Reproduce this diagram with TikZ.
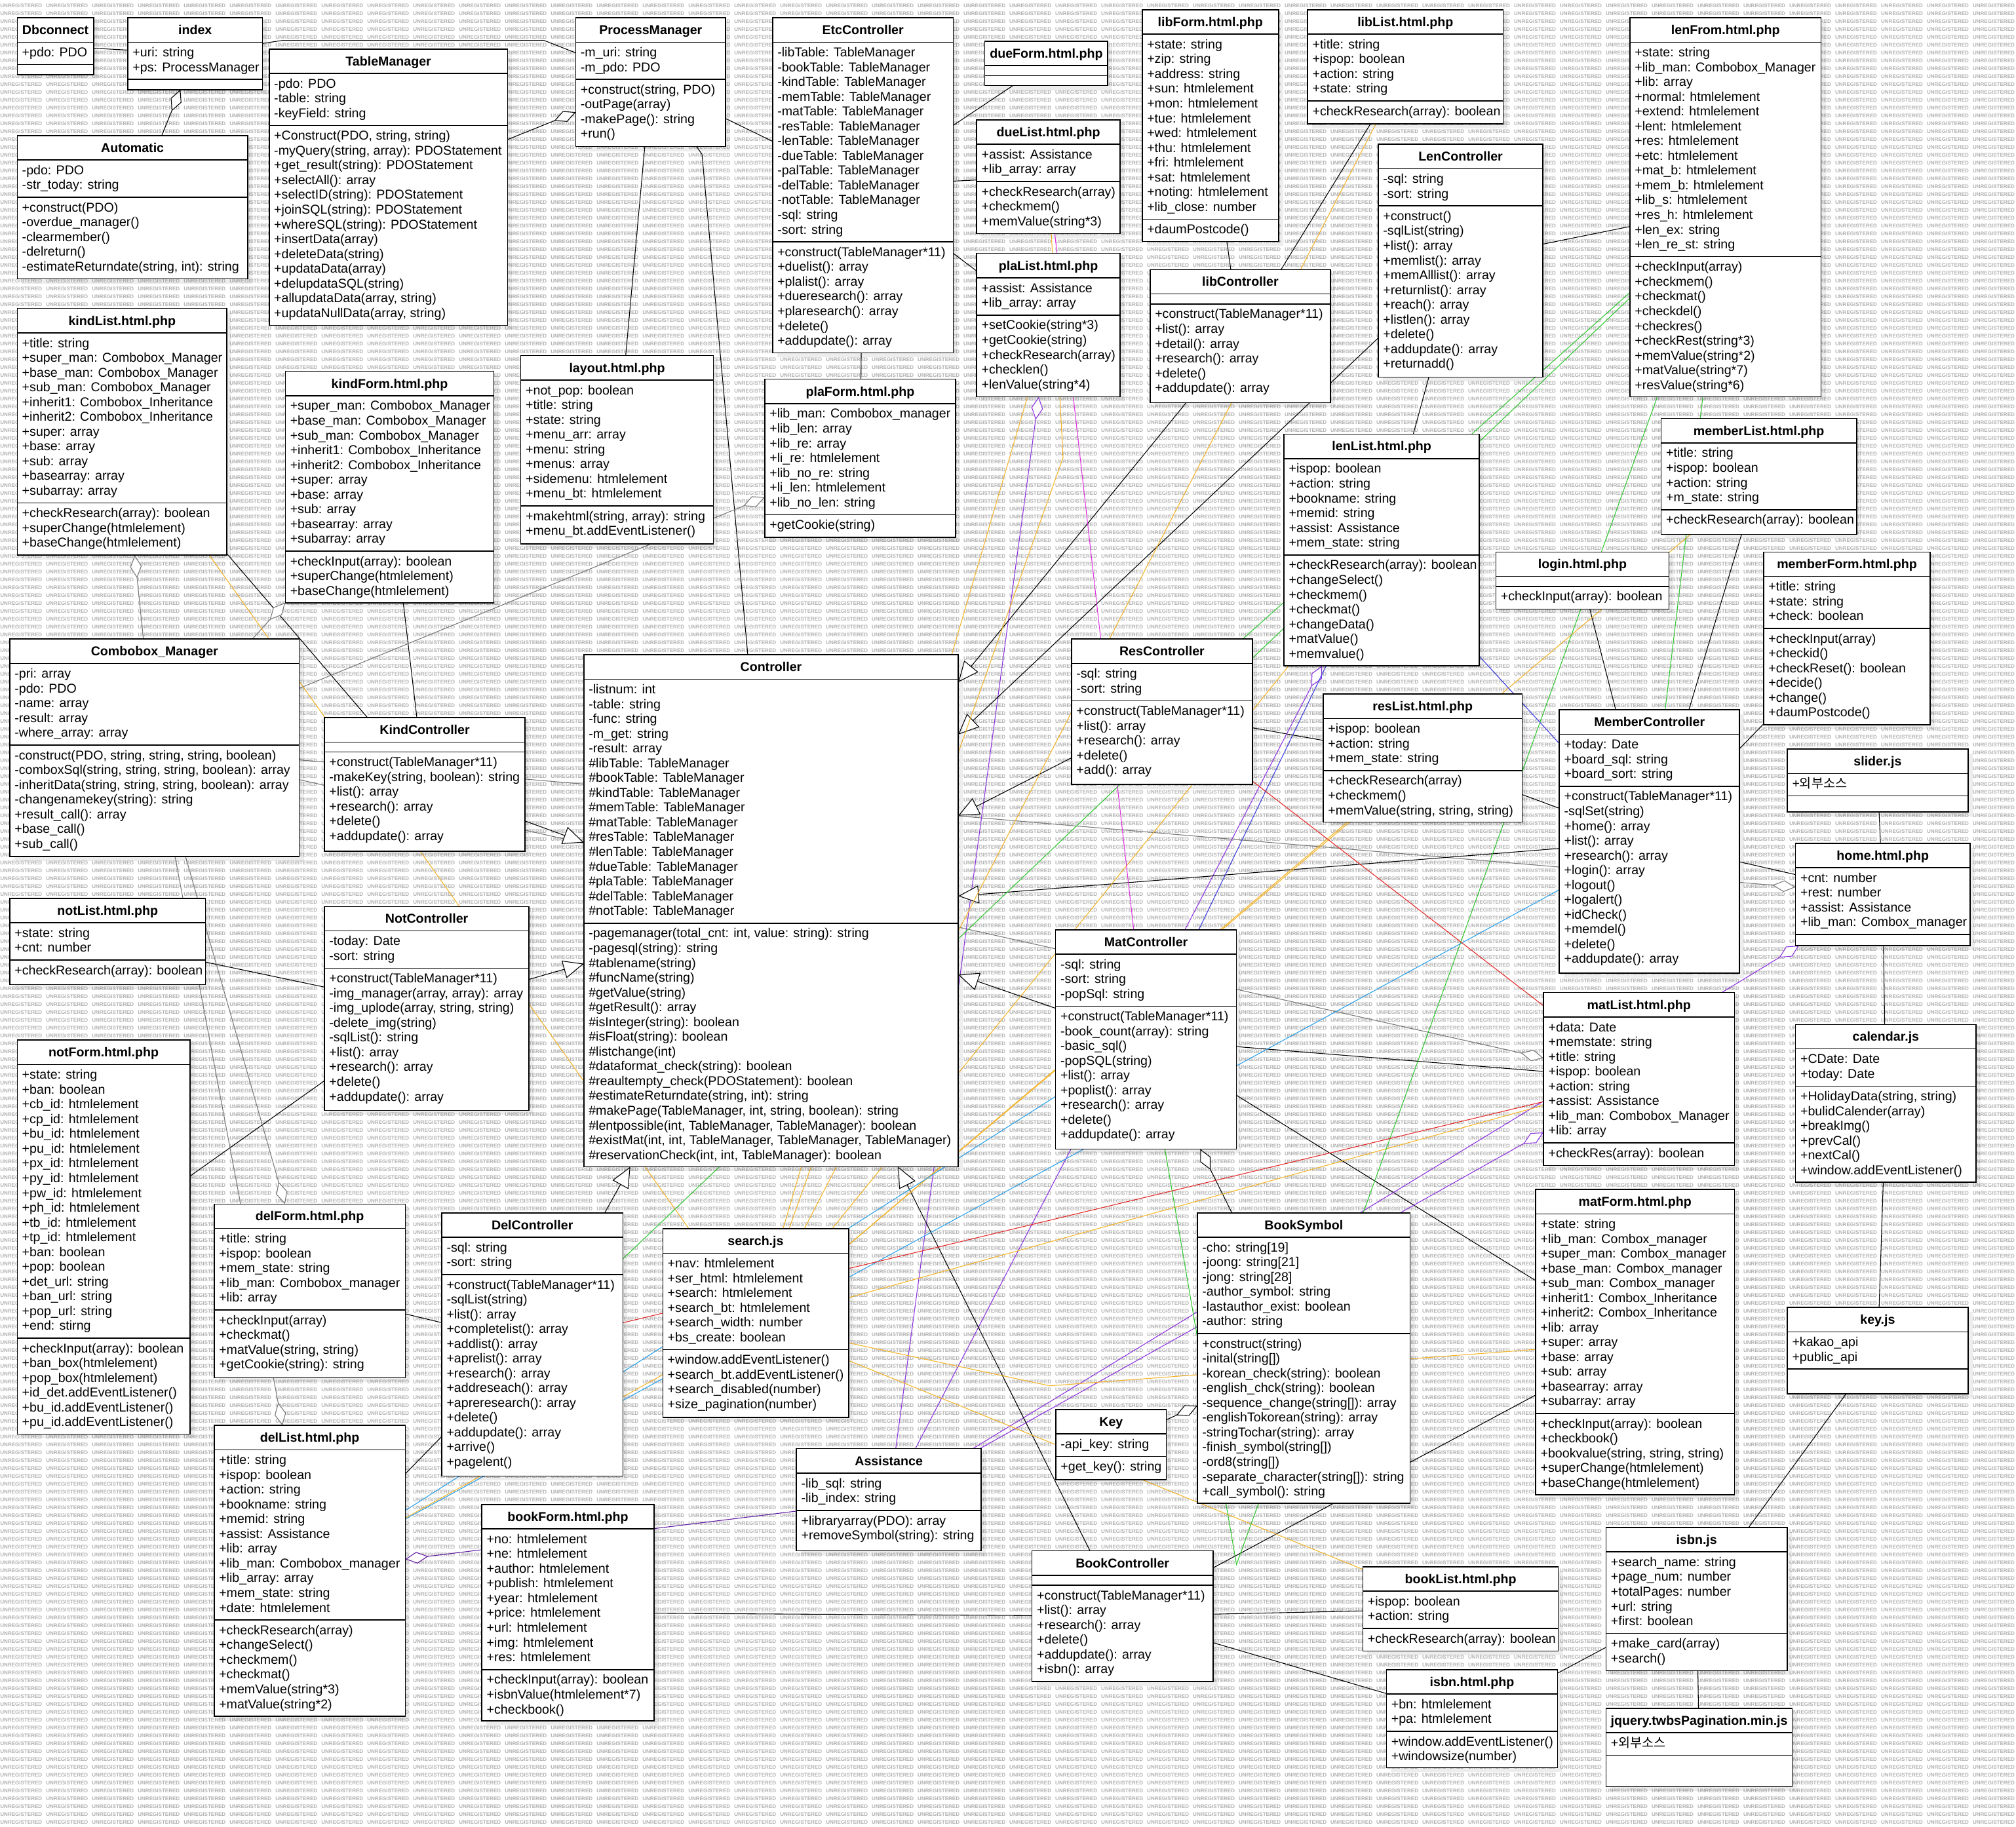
\documentclass[tikz,border=0pt]{standalone}
\usepackage{fontspec}
\setmainfont{Liberation Sans}
\newfontfamily\krfont{Noto Sans CJK KR}
\usetikzlibrary{arrows.meta}
\pgfdeclarelayer{wm}
\pgfdeclarelayer{lines}
\pgfdeclarelayer{boxes}
\pgfsetlayers{wm,lines,boxes,main}

\definecolor{corange}{RGB}{245,180,40}
\definecolor{cgreen}{RGB}{50,200,50}
\definecolor{cpurple}{RGB}{140,50,225}
\definecolor{cdpurple}{RGB}{95,25,160}
\definecolor{cmagenta}{RGB}{225,50,225}
\definecolor{cred}{RGB}{230,40,40}
\definecolor{clblue}{RGB}{40,160,235}
\definecolor{cblue}{RGB}{60,60,225}
\definecolor{cgray}{RGB}{120,120,120}

% line struts for class compartments
\newcommand\ls{\rule[-3.19pt]{0pt}{11.49pt}}
\newcommand\ts{\rule[-3pt]{0pt}{13pt}}

% background tiling text
\newcommand\wmw{\makebox[35.68pt][l]{UNREGISTERED}}
\newcommand\wmfour{\wmw\wmw\wmw\wmw}
\newcommand\wmrow{\wmfour\wmfour\wmfour\wmfour\wmfour\wmfour\wmfour\wmfour\wmfour\wmfour\wmfour}

% \umlclass{name}{x}{y}{width}{height}{title}{attributes}{operations}
\newcommand\umlclass[8]{%
  \begin{pgfonlayer}{boxes}
    \fill[boxshade] ({#2+3.5},{#3+3.5}) rectangle ++(#4,#5);
    \node[classbox, minimum width=#4pt, minimum height=#5pt] (#1) at ({#2+#4/2},{#3+#5/2}) {};
  \end{pgfonlayer}
  \def\partA{#7}\ifx\partA\empty\def\partA{\rule{0pt}{1.7pt}}\else\def\partA{\ls#7\ls}\fi
  \def\partB{#8}\ifx\partB\empty\def\partB{\rule{0pt}{1.7pt}}\else\def\partB{\ls#8\ls}\fi
  \node[ttxt, anchor=north] (#1-t) at (#1.north) {\ts#6};
  \node[ptxt, anchor=north west] (#1-a) at (#1-t.south -| #1.west) {\partA};
  \node[ptxt, anchor=north west] (#1-m) at (#1-a.south -| #1.west) {\partB};
  \draw[sepline] (#1-t.south -| #1.west) -- (#1-t.south -| #1.east);
  \draw[sepline] (#1-a.south -| #1.west) -- (#1-a.south -| #1.east);
}

\tikzset{
  classbox/.style={draw=black, line width=0.8pt, fill=white, inner sep=0pt, outer sep=0pt},
  boxshade/.style={fill=black, opacity=0.07},
  ttxt/.style={inner xsep=2pt, inner ysep=3pt, outer sep=0pt, font=\fontsize{10}{11.49}\selectfont\bfseries},
  ptxt/.style={inner xsep=3.8pt, inner ysep=3pt, outer sep=0pt, align=left, font=\fontsize{10}{11.49}\selectfont},
  sepline/.style={line width=0.8pt},
  wm/.style={anchor=base west, inner sep=0pt, font=\fontsize{4.1}{4.1}\selectfont\bfseries, text=black!30},
  conn/.style={line width=0.55pt},
  assoc/.style={conn, draw=black},
  gen/.style={assoc, -{Triangle[length=16pt, width=14pt, fill=white]}},
  agg/.style={conn, -{Diamond[length=18pt, width=9pt, fill=white]}},
  oline/.style={conn, draw=corange},
  gline/.style={conn, draw=cgreen},
  bline/.style={conn, draw=cblue},
  lbline/.style={conn, draw=clblue},
  rline/.style={conn, draw=cred},
  mline/.style={conn, draw=cmagenta},
}

\begin{document}
\begin{tikzpicture}[x=1pt, y=-1pt]
\useasboundingbox (0,0) rectangle (1568,1421);

\begin{pgfonlayer}{wm}
  \fill[white] (0,0) rectangle (1568,1421);
  \foreach \k in {0,...,231} {\node[wm] (wm\k) at (0,{6.1+6.117*\k}) {\wmrow};}
\end{pgfonlayer}

% ---------- classes ----------
\umlclass{dbc}{13.4}{13.8}{59.4}{44.3}{Dbconnect}{+pdo: PDO}{}
\umlclass{idx}{99.4}{13.8}{104.7}{55.9}{index}{+uri: string\\+ps: ProcessManager}{}
\umlclass{auto}{13.4}{105.4}{179.3}{111.6}{Automatic}{-pdo: PDO\\-str\_today: string}{+construct(PDO)\\-overdue\_manager()\\-clearmember()\\-delreturn()\\-estimateReturndate(string, int): string}
\umlclass{tm}{209.4}{38.2}{185.4}{214.8}{TableManager}{-pdo: PDO\\-table: string\\-keyField: string}{+Construct(PDO, string, string)\\-myQuery(string, array): PDOStatement\\+get\_result(string): PDOStatement\\+selectAll(): array\\+selectID(string): PDOStatement\\+joinSQL(string): PDOStatement\\+whereSQL(string): PDOStatement\\+insertData(array)\\+deleteData(string)\\+updataData(array)\\+delupdataSQL(string)\\+allupdataData(array, string)\\+updataNullData(array, string)}
\umlclass{pm}{447.8}{13.8}{116.6}{100.2}{ProcessManager}{-m\_uri: string\\-m\_pdo: PDO}{+construct(string, PDO)\\-outPage(array)\\-makePage(): string\\+run()}
\umlclass{etc}{600.9}{13.8}{140.5}{260.6}{EtcController}{-libTable: TableManager\\-bookTable: TableManager\\-kindTable: TableManager\\-memTable: TableManager\\-matTable: TableManager\\-resTable: TableManager\\-lenTable: TableManager\\-dueTable: TableManager\\-palTable: TableManager\\-delTable: TableManager\\-notTable: TableManager\\-sql: string\\-sort: string}{+construct(TableManager*11)\\+duelist(): array\\+plalist(): array\\+dueresearch(): array\\+plaresearch(): array\\+delete()\\+addupdate(): array}
\umlclass{dueform}{766}{32.1}{95.5}{34.5}{dueForm.html.php}{}{}
\umlclass{duelist}{759.6}{93.2}{111.6}{88.6}{dueList.html.php}{+assist: Assistance\\+lib\_array: array}{+checkResearch(array)\\+checkmem()\\+memValue(string*3)}
\umlclass{plalist}{759.6}{197.1}{111.6}{111.5}{plaList.html.php}{+assist: Assistance\\+lib\_array: array}{+setCookie(string*3)\\+getCookie(string)\\+checkResearch(array)\\+checklen()\\+lenValue(string*4)}
\umlclass{libform}{888.4}{7.6}{106}{180.3}{libForm.html.php}{+state: string\\+zip: string\\+address: string\\+sun: htmlelement\\+mon: htmlelement\\+tue: htmlelement\\+wed: htmlelement\\+thu: htmlelement\\+fri: htmlelement\\+sat: htmlelement\\+noting: htmlelement\\+lib\_close: number}{+daumPostcode()}
\umlclass{liblist}{1017}{7.6}{152.1}{88.7}{libList.html.php}{+title: string\\+ispop: boolean\\+action: string\\+state: string}{+checkResearch(array): boolean}
\umlclass{lenfrom}{1267.7}{13.8}{148.7}{294.8}{lenFrom.html.php}{+state: string\\+lib\_man: Combobox\_Manager\\+lib: array\\+normal: htmlelement\\+extend: htmlelement\\+lent: htmlelement\\+res: htmlelement\\+etc: htmlelement\\+mat\_b: htmlelement\\+mem\_b: htmlelement\\+lib\_s: htmlelement\\+res\_h: htmlelement\\+len\_ex: string\\+len\_re\_st: string}{+checkInput(array)\\+checkmem()\\+checkmat()\\+checkdel()\\+checkres()\\+checkRest(string*3)\\+memValue(string*2)\\+matValue(string*7)\\+resValue(string*6)}
\umlclass{lenctl}{1072}{112.2}{128}{181.2}{LenController}{-sql: string\\-sort: string}{+construct()\\-sqlList(string)\\+list(): array\\+memlist(): array\\+memAlllist(): array\\+returnlist(): array\\+reach(): array\\+listlen(): array\\+delete()\\+addupdate(): array\\+returnadd()}
\umlclass{libctl}{894.5}{209.7}{140.3}{103.6}{libController}{}{+construct(TableManager*11)\\+list(): array\\+detail(): array\\+research(): array\\+delete()\\+addupdate(): array}
\umlclass{kindlist}{13.4}{239.9}{163.1}{191.9}{kindList.html.php}{+title: string\\+super\_man: Combobox\_Manager\\+base\_man: Combobox\_Manager\\+sub\_man: Combobox\_Manager\\+inherit1: Combobox\_Inheritance\\+inherit2: Combobox\_Inheritance\\+super: array\\+base: array\\+sub: array\\+basearray: array\\+subarray: array}{+checkResearch(array): boolean\\+superChange(htmlelement)\\+baseChange(htmlelement)}
\umlclass{kindform}{221.9}{288.8}{162.3}{180.3}{kindForm.html.php}{+super\_man: Combobox\_Manager\\+base\_man: Combobox\_Manager\\+sub\_man: Combobox\_Manager\\+inherit1: Combobox\_Inheritance\\+inherit2: Combobox\_Inheritance\\+super: array\\+base: array\\+sub: array\\+basearray: array\\+subarray: array}{+checkInput(array): boolean\\+superChange(htmlelement)\\+baseChange(htmlelement)}
\umlclass{layout}{405.1}{276.6}{149.7}{146.6}{layout.html.php}{+not\_pop: boolean\\+title: string\\+state: string\\+menu\_arr: array\\+menu: string\\+menus: array\\+sidemenu: htmlelement\\+menu\_bt: htmlelement}{+makehtml(string, array): string\\+menu\_bt.addEventListener()}
\umlclass{plaform}{594.8}{294.9}{148.4}{123.1}{plaForm.html.php}{+lib\_man: Combobox\_manager\\+lib\_len: array\\+lib\_re: array\\+li\_re: htmlelement\\+lib\_no\_re: string\\+li\_len: htmlelement\\+lib\_no\_len: string}{+getCookie(string)}
\umlclass{lenlist}{998.7}{337.7}{151.9}{180.2}{lenList.html.php}{+ispop: boolean\\+action: string\\+bookname: string\\+memid: string\\+assist: Assistance\\+mem\_state: string}{+checkResearch(array): boolean\\+changeSelect()\\+checkmem()\\+checkmat()\\+changeData()\\+matValue()\\+memvalue()}
\umlclass{memlist}{1292}{325.5}{152}{90.1}{memberList.html.php}{+title: string\\+ispop: boolean\\+action: string\\+m\_state: string}{+checkResearch(array): boolean}
\umlclass{login}{1163.5}{429.4}{134.6}{44.3}{login.html.php}{}{+checkInput(array): boolean}
\umlclass{memform}{1371.7}{429.4}{129.6}{134.3}{memberForm.html.php}{+title: string\\+state: string\\+check: boolean}{+checkInput(array)\\+checkid()\\+checkReset(): boolean\\+decide()\\+change()\\+daumPostcode()}
\umlclass{combo}{7.6}{497.1}{225.2}{169}{Combobox\_Manager}{-pri: array\\-pdo: PDO\\-name: array\\-result: array\\-where\_array: array}{-construct(PDO, string, string, string, boolean)\\-comboxSql(string, string, string, boolean): array\\-inheritData(string, string, string, boolean): array\\-changenamekey(string): string\\+result\_call(): array\\+base\_call()\\+sub\_call()}
\umlclass{ctl}{454.1}{509.3}{291.2}{398.2}{Controller}{-listnum: int\\-table: string\\-func: string\\-m\_get: string\\-result: array\\\#libTable: TableManager\\\#bookTable: TableManager\\\#kindTable: TableManager\\\#memTable: TableManager\\\#matTable: TableManager\\\#resTable: TableManager\\\#lenTable: TableManager\\\#dueTable: TableManager\\\#plaTable: TableManager\\\#delTable: TableManager\\\#notTable: TableManager}{-pagemanager(total\_cnt: int, value: string): string\\-pagesql(string): string\\\#tablename(string)\\\#funcName(string)\\\#getValue(string)\\\#getResult(): array\\\#isInteger(string): boolean\\\#isFloat(string): boolean\\\#listchange(int)\\\#dataformat\_check(string): boolean\\\#reaultempty\_check(PDOStatement): boolean\\\#estimateReturndate(string, int): string\\\#makePage(TableManager, int, string, boolean): string\\\#lentpossible(int, TableManager, TableManager): boolean\\\#existMat(int, int, TableManager, TableManager, TableManager)\\\#reservationCheck(int, int, TableManager): boolean}
\umlclass{kindctl}{252.3}{558.2}{156.1}{103.9}{KindController}{}{+construct(TableManager*11)\\-makeKey(string, boolean): string\\+list(): array\\+research(): array\\+delete()\\+addupdate(): array}
\umlclass{resctl}{833.4}{497.1}{140.7}{113.1}{ResController}{-sql: string\\-sort: string}{+construct(TableManager*11)\\+list(): array\\+research(): array\\+delete()\\+add(): array}
\umlclass{reslist}{1029.1}{539.9}{154.8}{99.6}{resList.html.php}{+ispop: boolean\\+action: string\\+mem\_state: string}{+checkResearch(array)\\+checkmem()\\+memValue(string, string, string)}
\umlclass{memctl}{1212.8}{552.1}{140.2}{204.8}{MemberController}{+today: Date\\+board\_sql: string\\+board\_sort: string}{+construct(TableManager*11)\\-sqlSet(string)\\+home(): array\\+list(): array\\+research(): array\\+login(): array\\+logout()\\+logalert()\\+idCheck()\\+memdel()\\+delete()\\+addupdate(): array}
\umlclass{slider}{1390.1}{582.7}{140.6}{48.9}{slider.js}{+{\krfont 외부소스}}{}
\umlclass{home}{1396.5}{656}{135.7}{79.5}{home.html.php}{+cnt: number\\+rest: number\\+assist: Assistance\\+lib\_man: Combox\_manager}{}
\umlclass{notlist}{7.6}{698.8}{152.2}{67.2}{notList.html.php}{+state: string\\+cnt: number}{+checkResearch(array): boolean}
\umlclass{notctl}{252.3}{705.2}{159.2}{158.6}{NotController}{-today: Date\\-sort: string}{+construct(TableManager*11)\\-img\_manager(array, array): array\\-img\_uplode(array, string, string)\\-delete\_img(string)\\-sqlList(): string\\+list(): array\\+research(): array\\+delete()\\+addupdate(): array}
\umlclass{matctl}{821}{723.2}{140.7}{170.6}{MatController}{-sql: string\\-sort: string\\-popSql: string}{+construct(TableManager*11)\\-book\_count(array): string\\-basic\_sql()\\-popSQL(string)\\+list(): array\\+poplist(): array\\+research(): array\\+delete()\\+addupdate(): array}
\umlclass{matlist}{1200.5}{772.1}{148.5}{134.5}{matList.html.php}{+data: Date\\+memstate: string\\+title: string\\+ispop: boolean\\+action: string\\+assist: Assistance\\+lib\_man: Combobox\_Manager\\+lib: array}{+checkRes(array): boolean}
\umlclass{calendar}{1396.5}{796.9}{140.5}{122.8}{calendar.js}{+CDate: Date\\+today: Date}{+HolidayData(string, string)\\+bulidCalender(array)\\+breakImg()\\+prevCal()\\+nextCal()\\+window.addEventListener()}
\umlclass{notform}{13.4}{809.1}{134.4}{306.4}{notForm.html.php}{+state: string\\+ban: boolean\\+cb\_id: htmlelement\\+cp\_id: htmlelement\\+bu\_id: htmlelement\\+pu\_id: htmlelement\\+px\_id: htmlelement\\+py\_id: htmlelement\\+pw\_id: htmlelement\\+ph\_id: htmlelement\\+tb\_id: htmlelement\\+tp\_id: htmlelement\\+ban: boolean\\+pop: boolean\\+det\_url: string\\+ban\_url: string\\+pop\_url: string\\+end: stirng}{+checkInput(array): boolean\\+ban\_box(htmlelement)\\+pop\_box(htmlelement)\\+id\_det.addEventListener()\\+bu\_id.addEventListener()\\+pu\_id.addEventListener()}
\umlclass{delform}{166.6}{936.6}{148.6}{135.2}{delForm.html.php}{+title: string\\+ispop: boolean\\+mem\_state: string\\+lib\_man: Combobox\_manager\\+lib: array}{+checkInput(array)\\+checkmat()\\+matValue(string, string)\\+getCookie(string): string}
\umlclass{delctl}{343.6}{943.4}{140.9}{204.8}{DelController}{-sql: string\\-sort: string}{+construct(TableManager*11)\\-sqlList(string)\\+list(): array\\+completelist(): array\\+addlist(): array\\+aprelist(): array\\+research(): array\\+addreseach(): array\\+apreresearch(): array\\+delete()\\+addupdate(): array\\+arrive()\\+pagelent()}
\umlclass{search}{515.5}{955.8}{144.5}{146.8}{search.js}{+nav: htmlelement\\+ser\_html: htmlelement\\+search: htmlelement\\+search\_bt: htmlelement\\+search\_width: number\\+bs\_create: boolean}{+window.addEventListener()\\+search\_bt.addEventListener()\\+search\_disabled(number)\\+size\_pagination(number)}
\umlclass{booksym}{931.3}{943.4}{165.5}{226}{BookSymbol}{-cho: string[19]\\-joong: string[21]\\-jong: string[28]\\-author\_symbol: string\\-lastauthor\_exist: boolean\\-author: string}{+construct(string)\\-inital(string[])\\-korean\_check(string): boolean\\-english\_chck(string): boolean\\-sequence\_change(string[]): array\\-englishTokorean(string): array\\-stringTochar(string): array\\-finish\_symbol(string[])\\-ord8(string[])\\-separate\_character(string[]): string\\+call\_symbol(): string}
\umlclass{matform}{1194.4}{925.2}{154.6}{237.4}{matForm.html.php}{+state: string\\+lib\_man: Combox\_manager\\+super\_man: Combox\_manager\\+base\_man: Combox\_manager\\+sub\_man: Combox\_manager\\+inherit1: Combox\_Inheritance\\+inherit2: Combox\_Inheritance\\+lib: array\\+super: array\\+base: array\\+sub: array\\+basearray: array\\+subarray: array}{+checkInput(array): boolean\\+checkbook()\\+bookvalue(string, string, string)\\+superChange(htmlelement)\\+baseChange(htmlelement)}
\umlclass{keyjs}{1390.1}{1017}{140.6}{67.1}{key.js}{+kakao\_api\\+public\_api}{}
\umlclass{key}{821.2}{1096.4}{86}{54.5}{Key}{-api\_key: string}{+get\_key(): string}
\umlclass{assist}{619.4}{1126.9}{143.8}{79.5}{Assistance}{-lib\_sql: string\\-lib\_index: string}{+libraryarray(PDO): array\\+removeSymbol(string): string}
\umlclass{dellist}{166.6}{1108.8}{148.6}{226.2}{delList.html.php}{+title: string\\+ispop: boolean\\+action: string\\+bookname: string\\+memid: string\\+assist: Assistance\\+lib: array\\+lib\_man: Combobox\_manager\\+lib\_array: array\\+mem\_state: string\\+date: htmlelement}{+checkResearch(array)\\+changeSelect()\\+checkmem()\\+checkmat()\\+memValue(string*3)\\+matValue(string*2)}
\umlclass{bookform}{374.8}{1170.3}{133.8}{168.4}{bookForm.html.php}{+no: htmlelement\\+ne: htmlelement\\+author: htmlelement\\+publish: htmlelement\\+year: htmlelement\\+price: htmlelement\\+url: htmlelement\\+img: htmlelement\\+res: htmlelement}{+checkInput(array): boolean\\+isbnValue(htmlelement*7)\\+checkbook()}
\umlclass{bookctl}{802.7}{1206.4}{140.7}{101.5}{BookController}{}{+construct(TableManager*11)\\+list(): array\\+research(): array\\+delete()\\+addupdate(): array\\+isbn(): array}
\umlclass{booklist}{1060}{1218.7}{152}{65.5}{bookList.html.php}{+ispop: boolean\\+action: string}{+checkResearch(array): boolean}
\umlclass{isbnjs}{1249.1}{1188.2}{141}{111.4}{isbn.js}{+search\_name: string\\+page\_num: number\\+totalPages: number\\+url: string\\+first: boolean}{+make\_card(array)\\+search()}
\umlclass{isbnhtml}{1078.3}{1298.7}{133.2}{76.4}{isbn.html.php}{+bn: htmlelement\\+pa: htmlelement}{+window.addEventListener()\\+windowsize(number)}
\umlclass{jquery}{1249.1}{1328.9}{144.9}{60.9}{jquery.twbsPagination.min.js}{+{\krfont 외부소스}}{}

% ---------- bend points ----------
\coordinate (wIdxA) at (220,31.4);
\coordinate (wIdxB) at (423,31.4);
\coordinate (wPm) at (546,120);
\coordinate (wDue) at (826.8,356);
\coordinate (wLen) at (961.7,1217);
\coordinate (wMat) at (816.6,1078);

% ---------- connectors ----------
\begin{pgfonlayer}{lines}
  % plain associations
  \draw[assoc] (dbc) -- (idx);
  \draw[assoc] (idx) -- (wIdxA) -- (wIdxB) -- (pm);
  \draw[assoc] (pm) -- (etc);
  \draw[assoc] (pm) -- (layout);
  \draw[assoc] (pm) -- (wPm) -- (ctl);
  \draw[assoc] (etc) -- (dueform);
  \draw[assoc] (etc) -- (duelist);
  \draw[assoc] (etc) -- (plalist);
  \draw[assoc] (etc) -- (plaform);
  \draw[assoc] (libctl) -- (libform);
  \draw[assoc] (libctl) -- (liblist);
  \draw[assoc] (lenctl) -- (lenlist);
  \draw[assoc] (lenctl) -- (lenfrom);
  \draw[assoc] (kindctl) -- (kindlist);
  \draw[assoc] (kindctl) -- (kindform);
  \draw[assoc] (notctl) -- (notlist);
  \draw[assoc] (notctl) -- (notform);
  \draw[assoc] (delctl) -- (delform);
  \draw[assoc] (delctl) -- (dellist);
  \draw[assoc] (resctl) -- (reslist);
  \draw[assoc] (memctl) -- (memlist);
  \draw[assoc] (memctl) -- (login);
  \draw[assoc] (memctl) -- (memform);
  \draw[assoc] (memctl) -- (home);
  \draw[assoc] (memctl) -- (reslist);
  \draw[assoc] (matctl) -- (matlist);
  \draw[assoc] (matctl) -- (matform);
  \draw[assoc] (bookctl) -- (bookform);
  \draw[assoc] (bookctl) -- (booklist);
  \draw[assoc] (bookctl) -- (isbnhtml);
  \draw[assoc] (bookctl) -- (matform);
  \draw[assoc] (slider) -- (home);
  \draw[assoc] (home) -- (calendar);
  \draw[assoc] (calendar) -- (keyjs);
  \draw[assoc] (keyjs) -- (isbnjs);
  \draw[assoc] (isbnjs) -- (jquery);
  \draw[assoc] (isbnjs) -- (isbnhtml);
  % aggregations
  \draw[agg, draw=black] (auto) -- (idx);
  \draw[agg, draw=black] (tm) -- (pm);
  \draw[agg, draw=black] (booksym) -- (matctl);
  \draw[agg, draw=black] (key) -- (booksym);
  \draw[agg, draw=cgray] (combo) -- (kindlist);
  \draw[agg, draw=cgray] (combo) -- (kindform);
  \draw[agg, draw=cgray] (combo) -- (plaform);
  \draw[agg, draw=cgray] (combo) -- (home);
  \draw[agg, draw=cgray] (combo) -- (matlist);
  \draw[agg, draw=cgray] (combo) -- (delform);
  \draw[agg, draw=cgray] (combo) -- (dellist);
  \draw[agg, draw=cpurple] (assist) -- (plalist);
  \draw[agg, draw=cpurple] (assist) -- (lenlist);
  \draw[agg, draw=cpurple] (assist) -- (matlist);
  \draw[agg, draw=cpurple] (assist) -- (home);
  \draw[agg, draw=cdpurple] (assist) -- (dellist);
  % generalizations
  \draw[gen] (kindctl) -- (ctl);
  \draw[gen] (notctl) -- (ctl);
  \draw[gen] (delctl) -- (ctl);
  \draw[gen] (bookctl) -- (ctl);
  \draw[gen] (matctl) -- (ctl);
  \draw[gen] (memctl) -- (ctl);
  \draw[gen] (resctl) -- (ctl);
  \draw[gen] (lenctl) -- (ctl);
  \draw[gen] (libctl) -- (ctl);
  % search.js usage
  \draw[oline] (search) -- (kindlist);
  \draw[oline] (search) -- (liblist);
  \draw[oline] (search) -- (plalist);
  \draw[oline] (search) -- (wDue) -- (duelist);
  \draw[oline] (search) -- (lenlist);
  \draw[oline] (search) -- (reslist);
  \draw[oline] (search) -- (memlist);
  \draw[oline] (search) -- (matlist);
  \draw[oline] (search) -- (booklist);
  \draw[oline] (search) -- (dellist);
  \draw[oline] (search) -- (wMat) -- (matform);
  % page to controller calls
  \draw[gline] (lenfrom) -- (resctl);
  \draw[gline] (lenfrom) -- (delctl);
  \draw[gline] (lenfrom) -- (memctl);
  \draw[gline] (lenfrom) -- (wLen) -- (matctl);
  \draw[bline] (lenlist) -- (memctl);
  \draw[bline] (lenlist) -- (matctl);
  \draw[lbline] (dellist) -- (matctl);
  \draw[lbline] (dellist) -- (memctl);
  \draw[rline] (matlist) -- (resctl);
  \draw[rline] (matlist) -- (delctl);
  \draw[mline] (duelist) -- (matctl);
\end{pgfonlayer}
\end{tikzpicture}
\end{document}
